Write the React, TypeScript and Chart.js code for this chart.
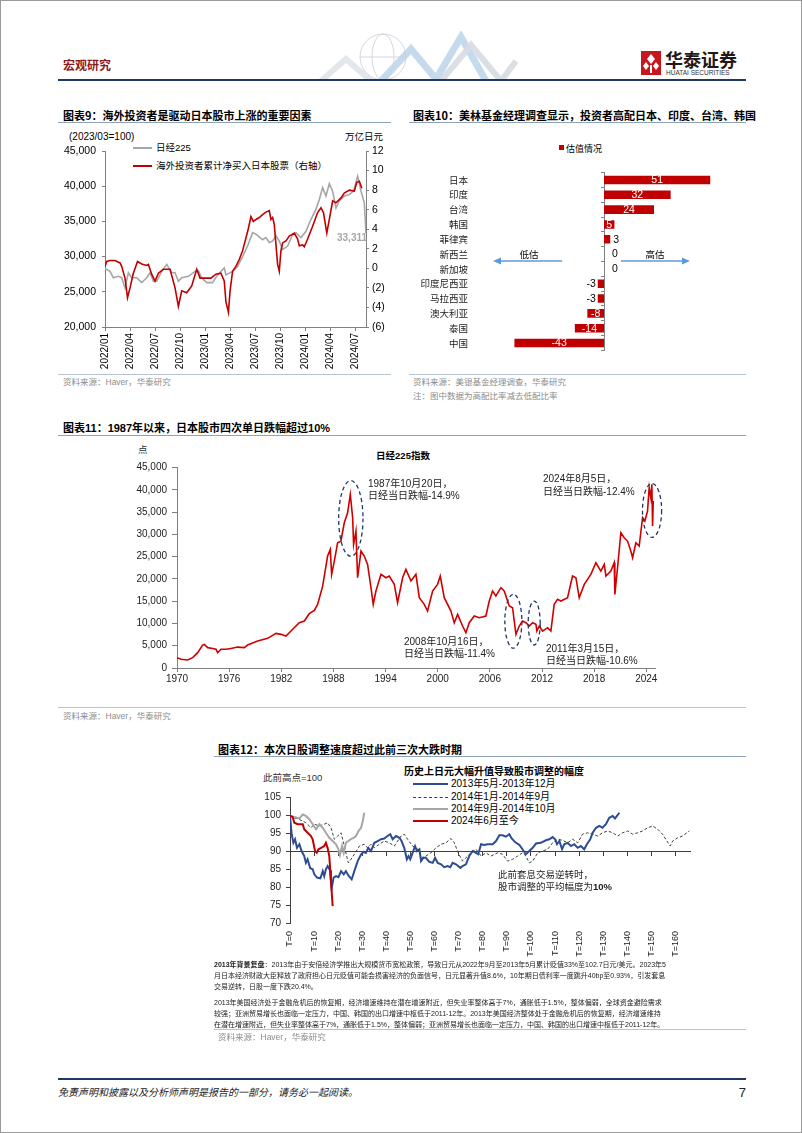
import React, { useEffect, useRef } from 'react';
import { Chart, registerables } from 'chart.js';

Chart.register(...registerables);

const LATIN = '"Liberation Sans", Arial, sans-serif';
const CJK = '"Noto Sans CJK SC", "Liberation Sans", sans-serif';
const MIX = '"Liberation Sans", "Noto Sans CJK SC", sans-serif';

Chart.defaults.font.family = LATIN;
Chart.defaults.color = '#000';

// ---------------- Chart 9 data ----------------
const c9XTickValues = [0, 3, 6, 9, 12, 15, 18, 21, 24, 27, 30];
const c9XTickLabels = ['2022/01', '2022/04', '2022/07', '2022/10', '2023/01', '2023/04', '2023/07', '2023/10', '2024/01', '2024/04', '2024/07'];
const c9LeftTickValues = [20000, 25000, 30000, 35000, 40000, 45000];
const c9LeftTickLabels = ['20,000', '25,000', '30,000', '35,000', '40,000', '45,000'];
const c9RightTickValues = [-6, -4, -2, 0, 2, 4, 6, 8, 10, 12];
const c9RightTickLabels = ['(6)', '(4)', '(2)', '0', '2', '4', '6', '8', '10', '12'];
// months since 2022/01
const nikkeiMonths = [0, 0.6, 1.0, 1.6, 2.0, 2.4, 2.8, 3.2, 3.8, 4.4, 5.0, 5.4, 5.8, 6.2, 6.8, 7.4, 8.0, 8.4, 8.8, 9.2, 10.0, 10.8, 11.2, 11.6, 12.2, 12.9, 13.5, 14.3, 14.5, 15.3, 15.9, 16.5, 17.1, 17.7, 18.1, 18.9, 19.3, 19.7, 20.1, 20.5, 20.9, 21.3, 21.9, 22.5, 22.9, 23.5, 24.1, 24.7, 25.3, 25.7, 26.1, 26.5, 26.9, 27.3, 27.7, 28.1, 28.7, 29.3, 29.8, 30.3, 30.7, 31.1, 31.3];
const nikkeiValues = [28300, 27900, 27000, 27200, 27000, 25550, 27700, 27000, 27000, 26300, 27000, 27700, 26500, 26500, 27900, 28900, 27700, 27700, 26500, 27000, 27200, 27900, 28000, 27000, 26300, 26300, 27400, 28400, 27400, 27900, 28600, 30000, 31500, 33400, 33200, 32400, 32700, 32000, 32200, 33000, 32200, 31000, 31500, 33100, 33400, 32700, 33600, 35300, 36700, 38100, 39800, 38600, 40350, 39300, 36900, 37900, 38600, 38800, 39300, 41400, 39300, 37600, 33311];
const flowMonths = [0, 0.2, 0.6, 1.2, 1.8, 2.0, 2.4, 2.7, 3.0, 3.4, 3.9, 4.4, 5.0, 5.2, 5.6, 6.0, 6.4, 7.0, 7.8, 8.4, 8.8, 9.2, 9.8, 10.4, 11.0, 11.4, 12.0, 12.7, 13.3, 13.9, 14.3, 14.5, 14.8, 15.0, 15.3, 15.7, 16.1, 16.5, 16.9, 17.2, 17.5, 17.8, 18.1, 18.5, 18.9, 19.3, 19.7, 19.9, 20.1, 20.3, 20.7, 20.9, 21.1, 21.3, 21.7, 22.1, 22.7, 23.1, 23.3, 23.7, 23.9, 24.3, 24.9, 25.5, 25.9, 26.2, 26.6, 26.9, 27.3, 27.7, 28.3, 28.7, 29.3, 29.9, 30.2, 30.5, 30.8];
const flowValues = [0.2, 0.7, 0.8, 0.8, 0.55, 0.2, -1.0, -3.0, -2.0, -0.5, 0.7, 0.45, 0.3, 0.4, -0.6, -1.3, -0.5, -0.1, -0.1, -2.0, -3.9, -2.3, -2.5, -1.8, -0.1, -1.0, -1.0, -1.0, -0.6, -0.5, -1.3, -3.4, -4.5, -2.3, -0.3, 0.2, 0.9, 1.8, 3.1, 4.1, 5.3, 4.8, 5.0, 5.2, 5.5, 5.75, 5.9, 5.0, 5.2, 4.5, 0.4, -0.3, 1.8, 2.6, 2.8, 3.3, 3.6, 3.0, 2.3, 2.4, 2.2, 3.0, 4.3, 5.7, 6.2, 5.7, 3.6, 5.0, 6.9, 6.7, 7.2, 7.7, 8.0, 7.9, 8.8, 8.9, 8.2];

// ---------------- Chart 10 data ----------------
const marketNames = ['日本', '印度', '台湾', '韩国', '菲律宾', '新西兰', '新加坡', '印度尼西亚', '马拉西亚', '澳大利亚', '泰国', '中国'];
const valuationValues = [51, 32, 24, 5, 3, 0, 0, -3, -3, -8, -14, -43];

// ---------------- Chart 11 data ----------------
const c11XTickValues = [1970, 1976, 1982, 1988, 1994, 2000, 2006, 2012, 2018, 2024];
const c11XTickLabels = ['1970', '1976', '1982', '1988', '1994', '2000', '2006', '2012', '2018', '2024'];
const c11YTickValues = [0, 5000, 10000, 15000, 20000, 25000, 30000, 35000, 40000, 45000];
const c11YTickLabels = ['0', '5,000', '10,000', '15,000', '20,000', '25,000', '30,000', '35,000', '40,000', '45,000'];
const n225Years = [1970.0, 1970.46, 1971.23, 1971.8, 1972.38, 1972.95, 1973.14, 1973.53, 1974.1, 1974.49, 1974.68, 1975.06, 1975.64, 1976.21, 1976.98, 1977.75, 1978.13, 1979.28, 1980.43, 1981.39, 1981.96, 1982.54, 1983.11, 1984.07, 1984.65, 1985.22, 1985.8, 1986.18, 1986.76, 1987.33, 1987.64, 1987.79, 1988.1, 1988.48, 1988.86, 1989.25, 1989.63, 1989.94, 1990.21, 1990.32, 1990.59, 1990.78, 1991.17, 1991.55, 1991.93, 1992.32, 1992.58, 1992.89, 1993.47, 1994.04, 1994.42, 1995.0, 1995.38, 1995.96, 1996.34, 1996.92, 1997.49, 1997.88, 1998.45, 1998.83, 1999.41, 1999.98, 2000.29, 2000.75, 2001.52, 2001.9, 2002.29, 2002.86, 2003.24, 2003.63, 2004.2, 2004.78, 2005.54, 2005.93, 2006.31, 2006.69, 2007.27, 2007.65, 2008.23, 2008.61, 2009.0, 2009.38, 2009.76, 2010.15, 2010.53, 2010.91, 2011.3, 2011.41, 2011.68, 2012.06, 2012.64, 2013.02, 2013.4, 2013.79, 2014.17, 2014.94, 2015.51, 2015.9, 2016.28, 2016.86, 2017.62, 2018.2, 2018.77, 2019.16, 2019.35, 2019.92, 2020.31, 2020.38, 2020.69, 2021.07, 2021.46, 2021.84, 2022.22, 2022.42, 2022.8, 2023.18, 2023.57, 2023.83, 2024.14, 2024.33, 2024.52, 2024.64, 2024.72, 2024.8];
const n225Values = [2320, 1950, 1800, 2320, 3440, 5160, 5300, 4570, 4400, 4200, 3440, 4200, 4200, 4400, 4700, 4570, 5160, 6060, 6660, 7780, 7560, 7190, 8300, 10180, 10550, 12200, 12950, 14300, 18400, 25150, 26650, 21030, 24000, 28140, 28500, 32630, 34880, 39000, 33760, 27770, 30760, 20280, 26270, 25150, 23280, 18040, 14300, 17290, 21030, 20280, 20660, 18790, 14670, 20280, 22160, 19540, 21030, 15790, 14300, 12800, 17290, 18790, 20660, 15790, 12800, 10180, 12050, 9430, 7930, 10180, 11680, 11300, 11680, 15040, 17290, 16170, 18040, 17290, 13920, 13550, 7560, 9430, 10550, 10180, 9430, 10180, 9800, 8300, 9430, 8300, 9060, 8300, 14300, 15420, 15040, 15790, 20660, 20280, 15790, 18790, 21030, 23650, 21780, 23280, 20660, 21780, 23650, 16540, 22530, 30390, 29270, 28520, 26270, 24770, 28140, 27400, 33760, 33010, 35250, 40500, 38250, 41240, 31890, 37500];
// crash highlights (data units)
const crashYears = [1990.0, 2008.7, 2011.1, 2024.66];
const crashLevels = [33600, 10500, 10100, 35400];
const crashHalfYears = [1.4, 0.98, 0.69, 1.1];
const crashHalfLevels = [8500, 6050, 4930, 6050];

// ---------------- Chart 12 data ----------------
const c12XTickValues = [0, 10, 20, 30, 40, 50, 60, 70, 80, 90, 100, 110, 120, 130, 140, 150, 160];
const c12XTickLabels = ['T=0', 'T=10', 'T=20', 'T=30', 'T=40', 'T=50', 'T=60', 'T=70', 'T=80', 'T=90', 'T=100', 'T=110', 'T=120', 'T=130', 'T=140', 'T=150', 'T=160'];
const c12YTickValues = [70, 75, 80, 85, 90, 95, 100, 105];
const c12YTickLabels = ['70', '75', '80', '85', '90', '95', '100', '105'];
const s2013T = [0, 0.7, 1.4, 2.1, 2.9, 3.9, 4.8, 5.9, 6.6, 7.3, 8.4, 9.4, 10.1, 11.2, 12.6, 13.6, 14.2, 14.9, 15.6, 16.6, 17.0, 17.3, 18.1, 19.1, 20.1, 21.2, 22.3, 23.2, 24.2, 25.6, 26.7, 28.1, 29.5, 30.6, 31.5, 32.5, 33.6, 35.0, 36.4, 37.8, 39.1, 40.5, 41.6, 42.6, 44.0, 45.4, 46.3, 47.4, 48.5, 49.2, 49.9, 50.9, 51.9, 52.7, 53.7, 54.4, 55.3, 56.4, 57.8, 59.2, 60.2, 61.3, 62.7, 64.0, 65.4, 66.5, 67.5, 68.9, 70.7, 71.6, 73.0, 74.4, 75.8, 77.2, 78.1, 79.3, 80.6, 82.0, 84.1, 85.5, 86.9, 88.2, 89.6, 91.0, 92.0, 93.4, 95.2, 96.5, 97.9, 99.3, 100.7, 102.1, 104.1, 106.2, 107.6, 109.0, 110.0, 110.8, 111.8, 112.9, 113.8, 115.2, 116.6, 118.0, 119.4, 120.7, 122.1, 123.2, 124.6, 125.6, 127.0, 128.4, 129.7, 131.1, 132.5, 133.9, 134.9, 135.7, 136.7];
const s2013V = [100, 94.8, 92.4, 93.4, 91, 92, 90.1, 88.7, 86.8, 87.8, 85.3, 85, 83.6, 82.7, 82.5, 84.5, 83.1, 85, 85.9, 84.7, 81.7, 79.7, 82.7, 83.1, 82.8, 84.5, 83.6, 84.5, 83.3, 82.2, 84.5, 87.3, 89.2, 89.9, 89.6, 91, 90.1, 92.4, 92.9, 93.4, 93.6, 94.3, 94.8, 93.4, 94.3, 93.8, 92.9, 91, 87.8, 88.7, 87.8, 89.6, 91.5, 90.1, 90.6, 87.3, 88.2, 88.2, 87.1, 86.8, 88.2, 86.8, 86.4, 85.6, 85.9, 85.6, 86.8, 86.4, 85.4, 85.9, 86.4, 88.7, 90.1, 89.6, 89.2, 92, 91.8, 92, 92, 92.9, 94.5, 94.5, 94.1, 94.8, 93.6, 92.6, 91.8, 90.6, 89.2, 90.1, 91, 92.2, 92.4, 93.1, 93.4, 94, 93.4, 92, 92.9, 90.6, 92, 92.4, 91.5, 92, 91, 91.5, 90.6, 92, 93.4, 95.2, 96.6, 97.1, 96.6, 97.6, 99.4, 99.9, 99.2, 99.9, 100.8];
const s2014aT = [0, 1.8, 3.2, 4.6, 6.6, 8.7, 10.1, 12.2, 14.2, 15.6, 17.0, 18.4, 19.8, 21.2, 22.5, 24.2, 25.3, 26.7, 28.8, 30.8, 32.2, 33.6, 35.0, 37.1, 39.1, 41.2, 43.3, 44.7, 46.1, 47.4, 48.8, 50.9, 53.0, 55.0, 56.4, 58.5, 60.6, 62.7, 64.7, 66.8, 68.2, 69.8, 71.6, 73.0, 75.1, 77.2, 79.3, 81.3, 83.4, 86.2, 88.2, 90.3, 92.4, 94.5, 96.5, 97.9, 99.3, 100.7, 102.8, 104.8, 106.9, 109.0, 111.1, 113.1, 115.2, 117.3, 119.4, 121.4, 123.5, 125.6, 127.7, 129.7, 131.8, 133.9, 136.0, 138.0, 140.1, 142.2, 144.3, 146.3, 148.4, 150.5, 152.6, 154.6, 156.4, 157.8, 158.8, 160.9, 162.9, 165.7];
const s2014aV = [100, 99.3, 99.1, 98.7, 98, 96.6, 97.6, 97.1, 97.6, 98, 96.6, 93.4, 94.3, 95.2, 91.5, 86.8, 87.8, 89.2, 91.5, 92, 91, 92, 91, 92, 92.9, 92.4, 91.5, 92.9, 94.3, 94.8, 93.4, 91.5, 90.6, 88.2, 88.7, 89.6, 91, 92, 92.4, 93.6, 92.4, 89.6, 87.3, 88.2, 89.6, 90.6, 88.7, 89.6, 88.7, 89.6, 89.2, 87.3, 87.8, 88.7, 89.6, 88.7, 86.8, 87.3, 89.6, 90.1, 90.6, 92.4, 93.4, 93.1, 92.4, 93.4, 92.4, 94.8, 95.2, 94.8, 94.3, 95.2, 95.7, 95.2, 94.3, 95.2, 95.7, 94.8, 95.2, 95.7, 96.6, 97.1, 96.2, 94.8, 92.9, 91.5, 92.9, 93.8, 94.3, 95.7];
const s2014bT = [0, 1.8, 3.9, 5.3, 6.6, 8.0, 9.4, 10.8, 12.2, 13.6, 14.9, 16.3, 17.7, 19.1, 20.1, 20.7, 21.6, 22.3, 23.2, 24.2, 25.3, 26.4, 27.4, 28.4, 29.5, 30.2, 30.8];
const s2014bV = [100, 99.6, 99.2, 100.3, 99.9, 99, 97.6, 96.2, 97.6, 96.6, 95.2, 93.8, 92.9, 92, 90.6, 89, 91.5, 89.6, 92.4, 92.9, 93.4, 93.8, 94.3, 95.7, 96.6, 98.5, 100.8];
const s2024T = [0, 1.1, 1.8, 3.2, 5.3, 5.9, 7.3, 8.7, 9.4, 10.4, 11.1, 11.8, 12.9, 14.2, 14.9, 15.6, 16.3, 17.0, 17.7];
const s2024V = [100, 99.6, 98, 97.6, 97.6, 96.2, 95.2, 94.3, 93.4, 90.1, 89.6, 90.6, 91, 91.5, 92.4, 91, 88.7, 81.7, 74.7];

// ---------------- helpers ----------------
const fixBox = (size: number) => (scale: any) => {
  if (scale.isHorizontal()) scale.height = size; else scale.width = size;
  scale.paddingTop = 0; scale.paddingBottom = 0; scale.paddingLeft = 0; scale.paddingRight = 0;
};
const setTicks = (values: number[]) => (scale: any) => { scale.ticks = values.map((v) => ({ value: v })); };
const pts = (xs: number[], ys: number[]) => xs.map((x, i) => ({ x, y: ys[i] }));

function ChartBox({ left, top, width, height, make }: any) {
  const ref = useRef<HTMLCanvasElement>(null);
  useEffect(() => {
    const chart = new Chart(ref.current as HTMLCanvasElement, make());
    return () => chart.destroy();
  }, []);
  return <canvas ref={ref} width={width} height={height} style={{ position: 'absolute', left, top, width, height }} />;
}

const Txt = ({ x, y, children, size = 10, color = '#000', bold = false, font = MIX, italic = false, anchor = 'left' }: any) => (
  <div style={{
    position: 'absolute', left: x, top: y,
    transform: `translate(${anchor === 'center' ? '-50%' : anchor === 'right' ? '-100%' : '0'}, -50%)`,
    fontSize: size, color, fontWeight: bold ? 700 : 400, fontFamily: font, fontStyle: italic ? 'italic' : 'normal',
    whiteSpace: 'nowrap', lineHeight: 1,
  }}>{children}</div>
);
const HLine = ({ x1, x2, y, color = '#A9BCD0', w = 1, dash = false }: any) => (
  <div style={{ position: 'absolute', left: x1, top: y - w / 2, width: x2 - x1, height: 0, borderTop: `${w}px ${dash ? 'dashed' : 'solid'} ${color}` }} />
);

const baseOpts = {
  responsive: false,
  maintainAspectRatio: false,
  animation: false as const,
  events: [] as any[],
  plugins: { legend: { display: false }, tooltip: { enabled: false } },
};
const AXIS = '#808080';

// ---------------- chart 9 ----------------
function makeC9(): any {
  return {
    type: 'line',
    data: {
      datasets: [
        { data: pts(flowMonths, flowValues), yAxisID: 'y1', borderColor: '#C00000', borderWidth: 1.6, pointRadius: 0, tension: 0 },
        { data: pts(nikkeiMonths, nikkeiValues), yAxisID: 'y', borderColor: '#A6A6A6', borderWidth: 1.6, pointRadius: 0, tension: 0 },
      ],
    },
    options: {
      ...baseOpts,
      layout: { padding: { top: 22, left: 0, right: 0, bottom: 0 } },
      scales: {
        x: {
          type: 'linear', min: 0, max: 31.3, afterBuildTicks: setTicks(c9XTickValues), afterFit: fixBox(47),
          ticks: { autoSkip: false, maxRotation: 90, minRotation: 90, padding: 2, font: { size: 10 }, callback: (_v: any, i: number) => c9XTickLabels[i] },
          grid: { drawOnChartArea: false, tickLength: 4, color: AXIS }, border: { color: AXIS },
        },
        y: {
          type: 'linear', position: 'left', min: 20000, max: 45000, afterBuildTicks: setTicks(c9LeftTickValues), afterFit: fixBox(47),
          ticks: { padding: 6, font: { size: 10.5 }, callback: (_v: any, i: number) => c9LeftTickLabels[i] },
          grid: { drawOnChartArea: false, tickLength: 3, color: AXIS }, border: { color: AXIS },
        },
        y1: {
          type: 'linear', position: 'right', min: -6, max: 12, afterBuildTicks: setTicks(c9RightTickValues), afterFit: fixBox(27),
          ticks: { padding: 3, font: { size: 10.5 }, callback: (_v: any, i: number) => c9RightTickLabels[i] },
          grid: { drawOnChartArea: false, tickLength: 3, color: AXIS }, border: { color: AXIS },
        },
      },
    },
  };
}

// ---------------- chart 10 ----------------
const barLabelPlugin = {
  id: 'barLabels',
  afterDatasetsDraw(chart: any) {
    const ctx = chart.ctx;
    const meta = chart.getDatasetMeta(0);
    ctx.save();
    ctx.font = `10.5px ${LATIN}`;
    ctx.textBaseline = 'middle';
    meta.data.forEach((bar: any, i: number) => {
      const v = valuationValues[i];
      if (Math.abs(v) >= 5) {
        ctx.fillStyle = '#fff'; ctx.textAlign = 'center';
        ctx.fillText(String(v), (bar.x + bar.base) / 2, bar.y + 0.5);
      } else if (v >= 0) {
        ctx.fillStyle = '#000'; ctx.textAlign = 'left';
        ctx.fillText(String(v), bar.x + (v === 0 ? 8 : 3), bar.y + 0.5);
      } else {
        ctx.fillStyle = '#000'; ctx.textAlign = 'right';
        ctx.fillText(String(v), bar.x - 2, bar.y + 0.5);
      }
    });
    ctx.restore();
  },
};
function makeC10(): any {
  return {
    type: 'bar',
    data: {
      labels: marketNames,
      datasets: [{ data: valuationValues, backgroundColor: '#C00000', barPercentage: 0.58, categoryPercentage: 1 }],
    },
    plugins: [barLabelPlugin],
    options: {
      ...baseOpts,
      indexAxis: 'y',
      layout: { padding: { top: 11.6, left: 0, right: 17, bottom: 10.6 } },
      scales: {
        x: { type: 'linear', min: -60, max: 60, display: false },
        y: {
          type: 'category', position: 'left', afterFit: fixBox(70),
          grid: { display: false, drawTicks: false }, border: { display: false },
          ticks: { padding: 11, font: { family: CJK, size: 9.5 }, color: '#222' },
        },
        y2: {
          type: 'category', position: { x: 0 }, labels: marketNames, offset: true,
          grid: { drawOnChartArea: false, offset: true, tickLength: 3, color: AXIS },
          ticks: { display: false }, border: { display: true, color: AXIS },
        },
      },
    },
  };
}

// ---------------- chart 11 ----------------
const ellipsePlugin = {
  id: 'crashEllipses',
  afterDatasetsDraw(chart: any) {
    const { ctx, scales } = chart;
    const xs = scales.x; const ys = scales.y;
    ctx.save();
    ctx.strokeStyle = '#203864';
    ctx.lineWidth = 1.3;
    ctx.setLineDash([4, 3]);
    crashYears.forEach((yr, i) => {
      const cx = xs.getPixelForValue(yr);
      const cy = ys.getPixelForValue(crashLevels[i]);
      const rx = xs.getPixelForValue(yr + crashHalfYears[i]) - cx;
      const ry = cy - ys.getPixelForValue(crashLevels[i] + crashHalfLevels[i]);
      ctx.beginPath();
      ctx.ellipse(cx, cy, rx, ry, 0, 0, Math.PI * 2);
      ctx.stroke();
    });
    ctx.restore();
  },
};
function makeC11(): any {
  return {
    type: 'line',
    data: { datasets: [{ data: pts(n225Years, n225Values), borderColor: '#D00000', borderWidth: 1.6, pointRadius: 0, tension: 0 }] },
    plugins: [ellipsePlugin],
    options: {
      ...baseOpts,
      layout: { padding: { top: 26.7, left: 0, right: 16, bottom: 0 } },
      scales: {
        x: {
          type: 'linear', min: 1970, max: 2025, afterBuildTicks: setTicks(c11XTickValues), afterFit: fixBox(23),
          ticks: { autoSkip: false, maxRotation: 0, padding: 1, font: { size: 10 }, color: '#222', callback: (_v: any, i: number) => c11XTickLabels[i] },
          grid: { drawOnChartArea: false, tickLength: 4, color: AXIS }, border: { color: AXIS },
        },
        y: {
          type: 'linear', min: 0, max: 45000, afterBuildTicks: setTicks(c11YTickValues), afterFit: fixBox(76),
          ticks: { padding: 5, font: { size: 10 }, color: '#222', callback: (_v: any, i: number) => c11YTickLabels[i] },
          grid: { drawOnChartArea: false, tickLength: 5, color: AXIS }, border: { color: AXIS },
        },
      },
    },
  };
}

// ---------------- chart 12 ----------------
function makeC12(): any {
  return {
    type: 'line',
    data: {
      datasets: [
        { data: pts(s2024T, s2024V), borderColor: '#C00000', borderWidth: 2, pointRadius: 0, tension: 0 },
        { data: pts(s2014bT, s2014bV), borderColor: '#A6A6A6', borderWidth: 2, pointRadius: 0, tension: 0 },
        { data: pts(s2014aT, s2014aV), borderColor: '#404040', borderWidth: 1, borderDash: [3, 2], pointRadius: 0, tension: 0 },
        { data: pts(s2013T, s2013V), borderColor: '#2E4C95', borderWidth: 2, pointRadius: 0, tension: 0 },
      ],
    },
    options: {
      ...baseOpts,
      layout: { padding: { top: 6.7, left: 0, right: 11, bottom: 0 } },
      scales: {
        x: {
          type: 'linear', position: 'bottom', min: 0, max: 166, afterBuildTicks: setTicks(c12XTickValues), afterFit: fixBox(38),
          ticks: { autoSkip: false, maxRotation: 90, minRotation: 90, padding: 8, font: { size: 9 }, color: '#222', callback: (_v: any, i: number) => c12XTickLabels[i] },
          grid: { display: false, drawTicks: false }, border: { display: false },
        },
        x2: {
          type: 'linear', position: { y: 90 }, min: 0, max: 166, afterBuildTicks: setTicks(c12XTickValues),
          ticks: { display: false }, grid: { drawOnChartArea: false, tickLength: 4, color: '#404040' }, border: { color: '#404040' },
        },
        y: {
          type: 'linear', min: 70, max: 105, afterBuildTicks: setTicks(c12YTickValues), afterFit: fixBox(69),
          ticks: { padding: 5, font: { size: 10 }, color: '#222', callback: (_v: any, i: number) => c12YTickLabels[i] },
          grid: { drawOnChartArea: false, tickLength: 4, color: '#404040' }, border: { color: '#404040' },
        },
      },
    },
  };
}

const NAVY = '#1F3864';
const SRC = '#8C8C8C';
const SRCLINE = '#B7C5D3';
const TLINE = '#8DA3BC';

export default function App() {
  return (
    <div style={{ position: 'absolute', left: 0, top: 0, width: 802, height: 1133, background: '#fff', overflow: 'hidden', boxSizing: 'border-box', border: '1px solid #9a9a9a' }}>
      {/* header */}
      <svg style={{ position: 'absolute', left: 300, top: 30, width: 240, height: 50 }} viewBox="0 0 240 50">
        <circle cx="82" cy="26" r="23" fill="none" stroke="#D3D8DE" strokeWidth="1" />
        <ellipse cx="82" cy="26" rx="11" ry="23" fill="none" stroke="#D3D8DE" strokeWidth="1" />
        <line x1="59" y1="26" x2="105" y2="26" stroke="#D3D8DE" strokeWidth="1" />
        <polyline points="20,50 45,28 70,50" fill="none" stroke="#E3E7EC" strokeWidth="6" />
        <polyline points="80,50 110,18 135,48 160,6 185,50" fill="none" stroke="#BCD3EA" strokeWidth="7" opacity="0.85" />
        <polyline points="140,50 170,14 200,50 215,30" fill="none" stroke="#D6DCE3" strokeWidth="6" opacity="0.9" />
      </svg>
      <Txt x={62} y={64} size={12} bold color="#8B1A1A" font={CJK}>宏观研究</Txt>
      <div style={{ position: 'absolute', left: 640, top: 50, width: 20, height: 24, background: '#C8161D' }} />
      <svg style={{ position: 'absolute', left: 640, top: 50, width: 20, height: 24 }} viewBox="0 0 20 24">
        <polygon points="10,3 14,8 10,13 6,8" fill="#fff" />
        <polygon points="5,11 8,15 5,19 2,15" fill="#fff" />
        <polygon points="15,11 18,15 15,19 12,15" fill="#fff" />
        <rect x="9" y="14" width="2" height="8" fill="#fff" />
      </svg>
      <Txt x={664} y={58} size={18} bold color="#231815" font={CJK}>华泰证券</Txt>
      <Txt x={665} y={72} size={6.5} color="#333" font={LATIN}>HUATAI SECURITIES</Txt>
      <HLine x1={57} x2={745} y={79} color={NAVY} w={2.5} />

      {/* chart 9 */}
      <Txt x={62} y={114} size={11} bold font={CJK}>图表9：海外投资者是驱动日本股市上涨的重要因素</Txt>
      <HLine x1={57} x2={390} y={121} color={TLINE} w={1} />
      <Txt x={68} y={136} size={10} font={LATIN}>(2023/03=100)</Txt>
      <Txt x={344} y={136} size={9.5} font={CJK}>万亿日元</Txt>
      <HLine x1={132} x2={151} y={147} color="#A6A6A6" w={2} />
      <Txt x={155} y={147} size={9.5}>日经225</Txt>
      <HLine x1={132} x2={151} y={165} color="#C00000" w={2} />
      <Txt x={155} y={165} size={9.5} font={CJK}>海外投资者累计净买入日本股票（右轴）</Txt>
      <ChartBox left={57} top={128} width={335} height={245} make={makeC9} />
      <Txt x={336} y={237} size={10} bold color="#A6A6A6" font={LATIN}>33,311</Txt>
      <HLine x1={57} x2={390} y={374} color={SRCLINE} w={1.5} />
      <Txt x={62} y={381} size={8.5} color={SRC}>资料来源：Haver，华泰研究</Txt>

      {/* chart 10 */}
      <Txt x={412} y={114} size={11} bold font={CJK}>图表10：美林基金经理调查显示，投资者高配日本、印度、台湾、韩国</Txt>
      <HLine x1={408} x2={745} y={121} color={TLINE} w={1} />
      <div style={{ position: 'absolute', left: 558, top: 144, width: 5, height: 5, background: '#C00000' }} />
      <Txt x={565} y={147} size={9} font={CJK}>估值情况</Txt>
      <ChartBox left={408} top={160} width={337} height={200} make={makeC10} />
      <svg style={{ position: 'absolute', left: 485, top: 250, width: 215, height: 20 }} viewBox="0 0 215 20">
        <line x1="76" y1="10" x2="13" y2="10" stroke="#5B9BD5" strokeWidth="1.3" />
        <polygon points="7,10 15,6.5 15,13.5" fill="#5B9BD5" />
        <line x1="135" y1="10" x2="197" y2="10" stroke="#5B9BD5" strokeWidth="1.3" />
        <polygon points="204,10 196,6.5 196,13.5" fill="#5B9BD5" />
      </svg>
      <Txt x={528} y={254} size={9.5} anchor="center" font={CJK}>低估</Txt>
      <Txt x={654} y={254} size={9.5} anchor="center" font={CJK}>高估</Txt>
      <HLine x1={408} x2={745} y={374} color={SRCLINE} w={1.5} />
      <Txt x={412} y={381} size={8.5} color={SRC}>资料来源：美银基金经理调查，华泰研究</Txt>
      <Txt x={412} y={395} size={8.5} color={SRC}>注：图中数据为高配比率减去低配比率</Txt>

      {/* chart 11 */}
      <Txt x={62} y={427} size={11} bold>图表11：1987年以来，日本股市四次单日跌幅超过10%</Txt>
      <HLine x1={57} x2={745} y={434} color={TLINE} w={1} />
      <Txt x={137} y={449} size={9.5} color="#333" font={CJK}>点</Txt>
      <Txt x={402} y={455} size={9.5} bold anchor="center">日经225指数</Txt>
      <ChartBox left={100} top={440} width={570} height={250} make={makeC11} />
      <Txt x={367} y={483} size={10} color="#222">1987年10月20日，</Txt>
      <Txt x={367} y={495} size={10} color="#222">日经当日跌幅-14.9%</Txt>
      <Txt x={542} y={478} size={10} color="#222">2024年8月5日，</Txt>
      <Txt x={542} y={491} size={10} color="#222">日经当日跌幅-12.4%</Txt>
      <Txt x={403} y={641} size={10} color="#222">2008年10月16日，</Txt>
      <Txt x={403} y={653} size={10} color="#222">日经当日跌幅-11.4%</Txt>
      <Txt x={545} y={648} size={10} color="#222">2011年3月15日，</Txt>
      <Txt x={545} y={660} size={10} color="#222">日经当日跌幅-10.6%</Txt>
      <HLine x1={57} x2={745} y={707} color={SRCLINE} w={1.5} />
      <Txt x={62} y={715} size={8.5} color={SRC}>资料来源：Haver，华泰研究</Txt>

      {/* chart 12 */}
      <Txt x={217} y={748} size={11} bold font={CJK}>图表12：本次日股调整速度超过此前三次大跌时期</Txt>
      <HLine x1={213} x2={745} y={755} color={TLINE} w={1} />
      <Txt x={262} y={777} size={9.5} color="#333">此前高点=100</Txt>
      <Txt x={403} y={770} size={10} bold font={CJK}>历史上日元大幅升值导致股市调整的幅度</Txt>
      <HLine x1={412} x2={447} y={783} color="#2E4C95" w={2} />
      <Txt x={450} y={783} size={10}>2013年5月-2013年12月</Txt>
      <HLine x1={412} x2={447} y={796} color="#404040" w={1} dash />
      <Txt x={450} y={796} size={10}>2014年1月-2014年9月</Txt>
      <HLine x1={412} x2={447} y={808} color="#A6A6A6" w={2} />
      <Txt x={450} y={808} size={10}>2014年9月-2014年10月</Txt>
      <HLine x1={412} x2={447} y={820} color="#C00000" w={2} />
      <Txt x={450} y={820} size={10}>2024年6月至今</Txt>
      <ChartBox left={220} top={790} width={480} height={170} make={makeC12} />
      <Txt x={497} y={874} size={9.5} color="#222" font={CJK}>此前套息交易逆转时，</Txt>
      <Txt x={497} y={886} size={9.5} color="#222" font={CJK}>股市调整的平均幅度为<b style={{ fontFamily: LATIN }}>10%</b></Txt>
      <Txt x={213} y={963} size={7} color="#222"><b>2013年背景复盘</b>：2013年由于安倍经济学推出大规模货币宽松政策，导致日元从2022年9月至2013年5月累计贬值33%至102.7日元/美元。2023年5</Txt>
      <Txt x={213} y={974} size={7} color="#222">月日本经济财政大臣释放了政府担心日元贬值可能会损害经济的负面信号，日元显著升值8.6%，10年期日债利率一度跳升40bp至0.93%，引发套息</Txt>
      <Txt x={213} y={985} size={7} color="#222">交易逆转，日股一度下跌20.4%。</Txt>
      <Txt x={213} y={1001} size={7} color="#222">2013年美国经济处于金融危机后的恢复期，经济增速维持在潜在增速附近，但失业率整体高于7%，通胀低于1.5%，整体偏弱，全球资金避险需求</Txt>
      <Txt x={213} y={1012} size={7} color="#222">较强；亚洲贸易增长也面临一定压力，中国、韩国的出口增速中枢低于2011-12年。2013年美国经济整体处于金融危机后的恢复期，经济增速维持</Txt>
      <Txt x={213} y={1023} size={7} color="#222">在潜在增速附近，但失业率整体高于7%，通胀低于1.5%，整体偏弱；亚洲贸易增长也面临一定压力，中国、韩国的出口增速中枢低于2011-12年。</Txt>
      <HLine x1={213} x2={745} y={1029} color={SRCLINE} w={1.5} />
      <Txt x={217} y={1036} size={8.5} color={SRC}>资料来源：Haver，华泰研究</Txt>

      {/* footer */}
      <HLine x1={57} x2={745} y={1078} color={NAVY} w={2.5} />
      <Txt x={57} y={1091} size={10} italic color="#222" font={CJK}>免责声明和披露以及分析师声明是报告的一部分，请务必一起阅读。</Txt>
      <Txt x={745} y={1091} size={13} anchor="right" color="#222" font={LATIN}>7</Txt>
    </div>
  );
}
